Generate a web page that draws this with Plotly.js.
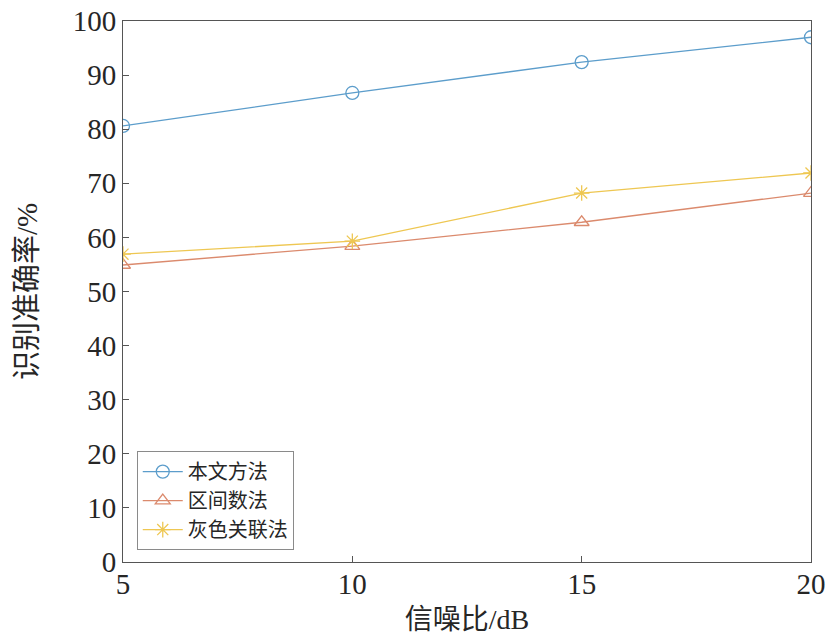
<!DOCTYPE html>
<html>
<head>
<meta charset="utf-8">
<script src="https://cdn.plot.ly/plotly-3.0.1.min.js"></script>
<style>
  html, body { margin: 0; padding: 0; background: #fff; }
  #chart { width: 833px; height: 639px; }
</style>
</head>
<body>
<div id="chart"></div>
<script>
// data
let snr = [5, 10, 15, 20];
let seriesNames = ['本文方法', '区间数法', '灰色关联法'];
let ourMethod = [80.6, 86.7, 92.4, 97.0];
let intervalMethod = [54.9, 58.4, 62.8, 68.2];
let greyMethod = [56.9, 59.3, 68.2, 71.9];
let yTicks = [0, 10, 20, 30, 40, 50, 60, 70, 80, 90, 100];
let xTicks = [5, 10, 15, 20];

let fontFamily = 'Liberation Serif, Noto Sans CJK SC, serif';

function makeTrace(y, name, color, symbol) {
    return {
        x: snr,
        y: y,
        name: name,
        type: 'scatter',
        mode: 'lines+markers',
        line: { color: color, width: 1.3 },
        marker: {
            symbol: symbol,
            size: 13,
            color: color,
            line: { color: color, width: 1.3 }
        }
    };
}

let data = [
    makeTrace(ourMethod, seriesNames[0], '#5c9dcb', 'circle-open'),
    makeTrace(intervalMethod, seriesNames[1], '#db8a6d', 'triangle-up-open'),
    makeTrace(greyMethod, seriesNames[2], '#eec752', 'asterisk-open')
];

// Layout of the chart
let layout = {
    width: 833,
    height: 639,
    margin: { l: 123, r: 22, t: 21, b: 77 },
    paper_bgcolor: '#ffffff',
    plot_bgcolor: '#ffffff',
    font: { family: fontFamily, color: '#262626' },
    showlegend: true,
    legend: {
        x: 0.02,
        y: 0.022,
        xanchor: 'left',
        yanchor: 'bottom',
        bgcolor: '#ffffff',
        bordercolor: '#8a8a8a',
        borderwidth: 1,
        font: { family: fontFamily, size: 20, color: '#262626' },
        itemwidth: 40,
        tracegroupgap: 0
    },
    xaxis: {
        range: [5, 20],
        tickvals: xTicks,
        ticktext: xTicks.map(String),
        ticks: 'inside',
        ticklen: 6,
        tickcolor: '#555',
        ticklabelstandoff: -4,
        showgrid: false,
        zeroline: false,
        showline: true,
        linecolor: '#555',
        linewidth: 1,
        mirror: true,
        tickfont: { family: fontFamily, size: 29, color: '#262626' },
        title: {
            text: '信噪比/dB',
            font: { family: fontFamily, size: 28, color: '#262626' },
            standoff: 10
        }
    },
    yaxis: {
        range: [0, 100],
        tickvals: yTicks,
        ticktext: yTicks.map(String),
        ticks: 'inside',
        ticklen: 6,
        tickcolor: '#555',
        showgrid: false,
        zeroline: false,
        showline: true,
        linecolor: '#555',
        linewidth: 1,
        mirror: true,
        tickfont: { family: fontFamily, size: 29, color: '#262626' },
        title: {
            text: '识别准确率/%',
            font: { family: fontFamily, size: 29, color: '#262626' },
            standoff: 26
        }
    }
};

// General chart configuration
let config = {
    displayModeBar: false,
    staticPlot: true
};

Plotly.newPlot(document.getElementById('chart'), data, layout, config);
</script>
</body>
</html>
